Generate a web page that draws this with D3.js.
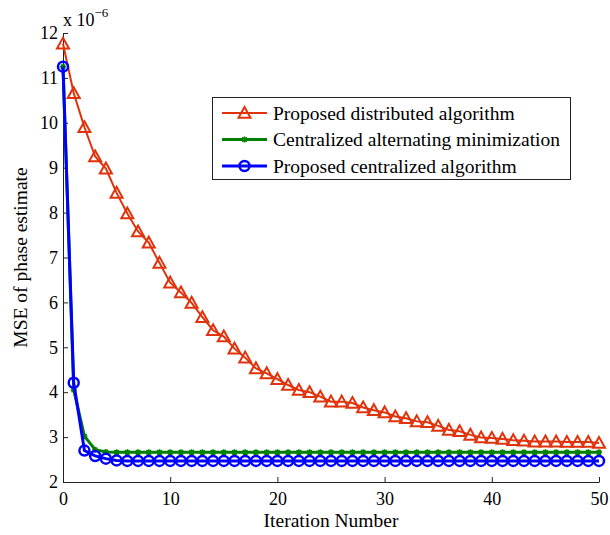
<!DOCTYPE html>
<html lang="en">
<head>
  <meta charset="UTF-8" />
  <title>MSE of phase estimate</title>
  <style>
  body { margin: 0; background: #fff; }
  svg { display: block; font-family: "Liberation Serif", "DejaVu Serif", serif; }
  </style>
  <script src="https://d3js.org/d3.v7.min.js"></script>
</head>
<body>
  <div id="chart"></div>
  <script>
    // values in units of 1e-6, one per iteration 0..50
    const iterations = d3.range(0, 51);
    const distributed = [11.76, 10.66, 9.90, 9.25, 8.98, 8.44, 7.98, 7.58, 7.33, 6.88,
      6.44, 6.22, 5.99, 5.67, 5.38, 5.24, 4.97, 4.77, 4.53, 4.42,
      4.29, 4.16, 4.05, 4.00, 3.90, 3.79, 3.79, 3.76, 3.66, 3.60,
      3.55, 3.46, 3.42, 3.35, 3.33, 3.25, 3.16, 3.13, 3.05, 2.99,
      2.98, 2.96, 2.93, 2.92, 2.90, 2.90, 2.90, 2.89, 2.89, 2.89, 2.87];
    const altMin = [11.25, 4.05, 3.02, 2.72, 2.67, 2.66, 2.66, 2.66, 2.66, 2.66,
      2.66, 2.66, 2.66, 2.66, 2.66, 2.66, 2.66, 2.66, 2.66, 2.66,
      2.66, 2.66, 2.66, 2.66, 2.66, 2.66, 2.66, 2.66, 2.66, 2.66,
      2.66, 2.66, 2.66, 2.66, 2.66, 2.66, 2.66, 2.66, 2.66, 2.66,
      2.66, 2.66, 2.66, 2.66, 2.66, 2.66, 2.66, 2.66, 2.66, 2.66, 2.66];
    const centralized = [11.25, 4.21, 2.70, 2.58, 2.52, 2.48, 2.47, 2.47, 2.47, 2.47,
      2.47, 2.47, 2.47, 2.47, 2.47, 2.47, 2.47, 2.47, 2.47, 2.47,
      2.47, 2.47, 2.47, 2.47, 2.47, 2.47, 2.47, 2.47, 2.47, 2.47,
      2.47, 2.47, 2.47, 2.47, 2.47, 2.47, 2.47, 2.47, 2.47, 2.47,
      2.47, 2.47, 2.47, 2.47, 2.47, 2.47, 2.47, 2.47, 2.47, 2.47, 2.47];
    const xTicks = [0, 10, 20, 30, 40, 50];
    const yTicks = [2, 3, 4, 5, 6, 7, 8, 9, 10, 11, 12];
    const seriesNames = ["Proposed distributed algorithm", "Centralized alternating minimization", "Proposed centralized algorithm"];

    const width = 610, height = 535;
    const margin = { top: 33, right: 11, bottom: 53, left: 63 };
    const red = "#e0330c", green = "#008000", blue = "#0000ff";
    const serif = "Liberation Serif";

    const svg = d3.select("#chart").append("svg")
      .attr("width", width)
      .attr("height", height);

    const x = d3.scaleLinear().domain([0, 50]).range([margin.left, width - margin.right]);
    const y = d3.scaleLinear().domain([2, 12]).range([height - margin.bottom, margin.top]);

    // axes, ticks pointing inward like matlab
    const xAxis = svg.append("g")
      .attr("transform", `translate(0,${y(2)})`)
      .call(d3.axisBottom(x).tickValues(xTicks).tickSizeInner(-5).tickSizeOuter(0).tickPadding(10));
    const yAxis = svg.append("g")
      .attr("transform", `translate(${x(0)},0)`)
      .call(d3.axisLeft(y).tickValues(yTicks).tickSizeInner(-5).tickSizeOuter(0).tickPadding(5));
    [xAxis, yAxis].forEach(g => {
      g.attr("font-family", serif);
      g.selectAll("text").attr("font-size", 18).attr("fill", "#000");
      g.selectAll("line, path").attr("stroke", "#222");
    });
    xAxis.selectAll("text").attr("dy", "0.71em");

    // exponent label
    const expo = svg.append("text")
      .attr("x", x(0))
      .attr("y", 26)
      .attr("font-size", 18);
    expo.append("tspan").text("x 10");
    expo.append("tspan").attr("dy", -9).attr("font-size", 13).text("\u22126");

    // axis titles
    svg.append("text")
      .attr("x", (x(0) + x(50)) / 2)
      .attr("y", 527)
      .attr("text-anchor", "middle")
      .attr("font-size", 19.5)
      .text("Iteration Number");
    svg.append("text")
      .attr("transform", `translate(27,${(y(2) + y(12)) / 2}) rotate(-90)`)
      .attr("text-anchor", "middle")
      .attr("font-size", 19.5)
      .text("MSE of phase estimate");

    const line = d3.line().x((d, i) => x(iterations[i])).y(d => y(d));

    function triangle(g, cx, cy) {
      const s = 6;
      g.append("path")
        .attr("d", `M${cx},${cy - s}L${cx + s},${cy + s * 0.8}L${cx - s},${cy + s * 0.8}Z`)
        .attr("fill", "none").attr("stroke", red).attr("stroke-width", 2);
    }
    function star(g, cx, cy) {
      const s = 3;
      g.append("path")
        .attr("d", `M${cx - s},${cy}H${cx + s}M${cx},${cy - s}V${cy + s}M${cx - s * 0.75},${cy - s * 0.75}L${cx + s * 0.75},${cy + s * 0.75}M${cx - s * 0.75},${cy + s * 0.75}L${cx + s * 0.75},${cy - s * 0.75}`)
        .attr("fill", "none").attr("stroke", green).attr("stroke-width", 1.5);
    }
    function ring(g, cx, cy) {
      g.append("circle").attr("cx", cx).attr("cy", cy).attr("r", 5)
        .attr("fill", "none").attr("stroke", blue).attr("stroke-width", 2.5);
    }

    // red series
    svg.append("path").datum(distributed).attr("d", line)
      .attr("fill", "none").attr("stroke", red).attr("stroke-width", 2);
    const gRed = svg.append("g");
    distributed.forEach((d, i) => triangle(gRed, x(iterations[i]), y(d)));

    // green series
    svg.append("path").datum(altMin).attr("d", line)
      .attr("fill", "none").attr("stroke", green).attr("stroke-width", 3);
    const gGreen = svg.append("g");
    altMin.forEach((d, i) => star(gGreen, x(iterations[i]), y(d)));

    // blue series
    svg.append("path").datum(centralized).attr("d", line)
      .attr("fill", "none").attr("stroke", blue).attr("stroke-width", 3);
    const gBlue = svg.append("g");
    centralized.forEach((d, i) => ring(gBlue, x(iterations[i]), y(d)));

    // legend
    const legend = svg.append("g");
    legend.append("rect")
      .attr("x", 212.5).attr("y", 97.5).attr("width", 358).attr("height", 82)
      .attr("fill", "#fff").attr("stroke", "#222").attr("stroke-width", 1);
    const markers = [triangle, star, ring];
    const colors = [red, green, blue];
    const widths = [2, 3, 3];
    seriesNames.forEach((name, i) => {
      const ly = 113 + i * 26.5;
      legend.append("line").attr("x1", 222).attr("x2", 267).attr("y1", ly).attr("y2", ly)
        .attr("stroke", colors[i]).attr("stroke-width", widths[i]);
      markers[i](legend, 244.5, ly);
      legend.append("text").attr("x", 273).attr("y", ly).attr("dy", "0.35em")
        .attr("font-size", 19.5).text(name);
    });
  </script>
</body>
</html>
